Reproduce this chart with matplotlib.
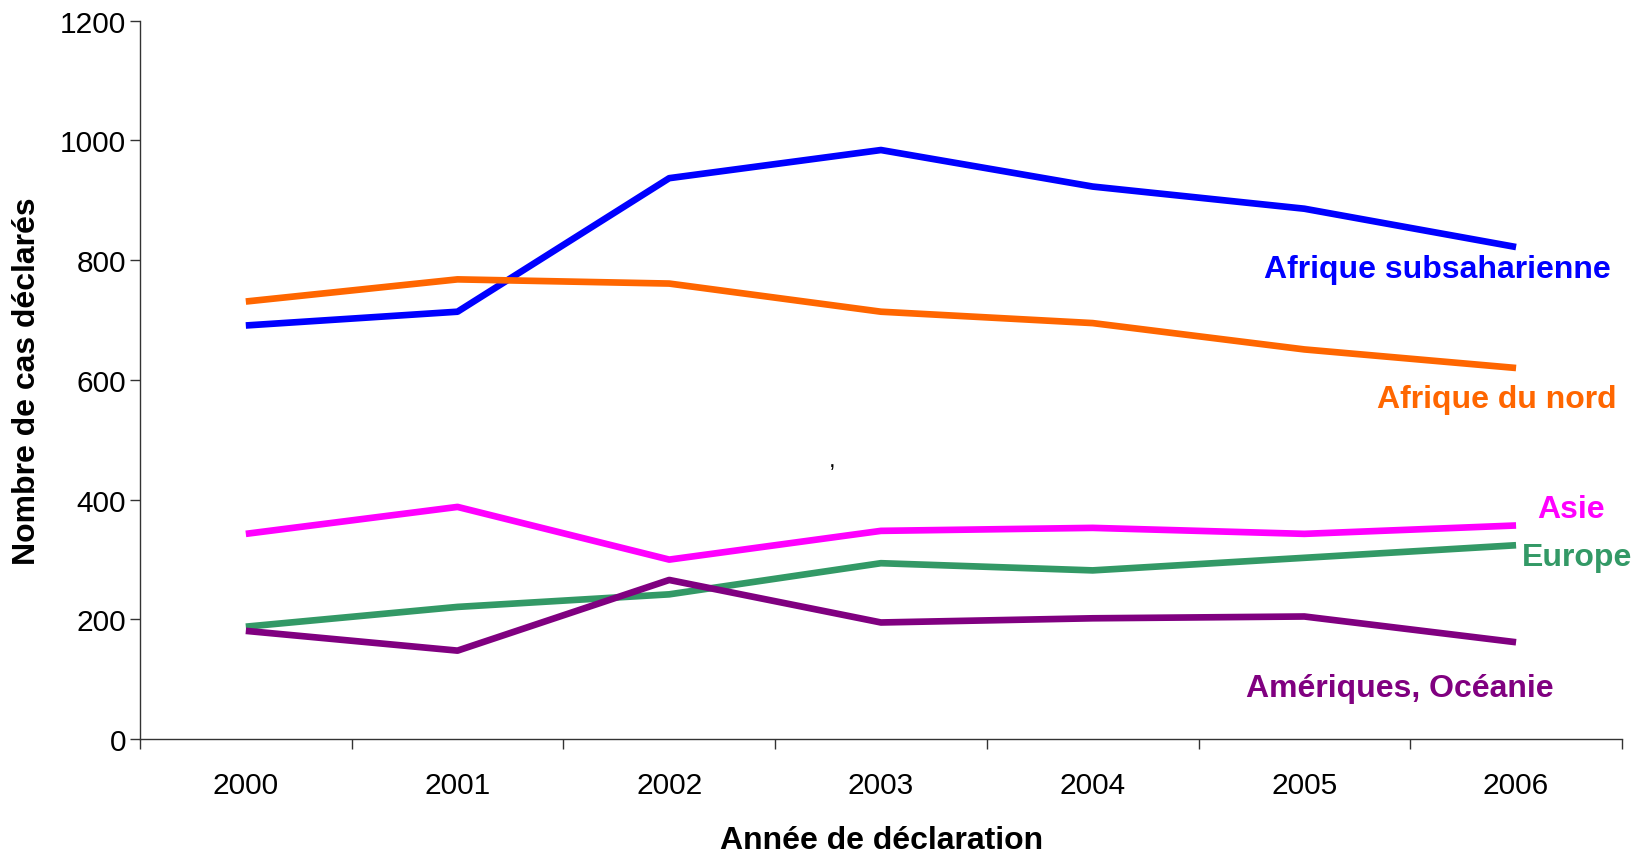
import matplotlib
matplotlib.use("Agg")
import matplotlib.pyplot as plt
from matplotlib.ticker import FixedLocator, NullFormatter

plt.rcParams['font.family'] = ['Liberation Sans', 'DejaVu Sans']

annees = ['2000', '2001', '2002', '2003', '2004', '2005', '2006']

afrique_subsaharienne = [691, 714, 937, 984, 923, 886, 822]
afrique_nord = [731, 768, 761, 714, 695, 651, 620]
asie = [343, 388, 300, 348, 353, 343, 357]
europe = [188, 221, 242, 294, 282, 303, 324]
ameriques_oceanie = [181, 148, 266, 195, 202, 205, 162]

series = [
    ("Afrique subsaharienne", afrique_subsaharienne, "#0000FF", (5.63, 785)),
    ("Afrique du nord", afrique_nord, "#FF6600", (5.91, 568)),
    ("Asie", asie, "#FF00FF", (6.26, 385)),
    ("Europe", europe, "#339966", (6.29, 304)),
    ("Amériques, Océanie", ameriques_oceanie, "#800080", (5.45, 86)),
]

fig = plt.figure(figsize=(16.35, 8.54), dpi=100)
ax = fig.add_axes([0.0856, 0.1332, 0.9064, 0.8414])

x = list(range(len(annees)))
for nom, valeurs, couleur, (tx, ty) in series:
    ax.plot(x, valeurs, color=couleur, linewidth=4.8, solid_capstyle='butt')
    ax.text(tx, ty, nom, color=couleur, fontsize=23, fontweight='bold',
            ha='center', va='center')

# petite virgule isolée au milieu du graphique
ax.text(2.77, 466, ",", fontsize=17, ha='center', va='center', color='black')

ax.set_xlim(-0.5, len(annees) - 0.5)
ax.set_ylim(0, 1200)
ax.set_yticks(range(0, 1201, 200))
ax.tick_params(axis='y', labelsize=21.5, length=7, width=1, color='#333333', pad=3)

# traits de graduation entre les années, étiquettes au centre
ax.xaxis.set_major_locator(FixedLocator([i - 0.5 for i in range(len(annees) + 1)]))
ax.xaxis.set_major_formatter(NullFormatter())
ax.xaxis.set_minor_locator(FixedLocator(x))
ax.set_xticklabels(annees, minor=True)
ax.tick_params(axis='x', which='major', direction='out', length=7, width=1, color='#333333')
ax.tick_params(axis='x', which='minor', length=0, labelsize=21.5, pad=23)

for s in ['top', 'right']:
    ax.spines[s].set_visible(False)
for s in ['left', 'bottom']:
    ax.spines[s].set_color('#333333')
    ax.spines[s].set_linewidth(1)

ax.set_xlabel("Année de déclaration", fontsize=23, fontweight='bold')
ax.set_ylabel("Nombre de cas déclarés", fontsize=23, fontweight='bold')
ax.xaxis.set_label_coords(0.5007, -0.12)
ax.yaxis.set_label_coords(-0.066, 0.5)

fig.savefig("out.png", dpi=100)
